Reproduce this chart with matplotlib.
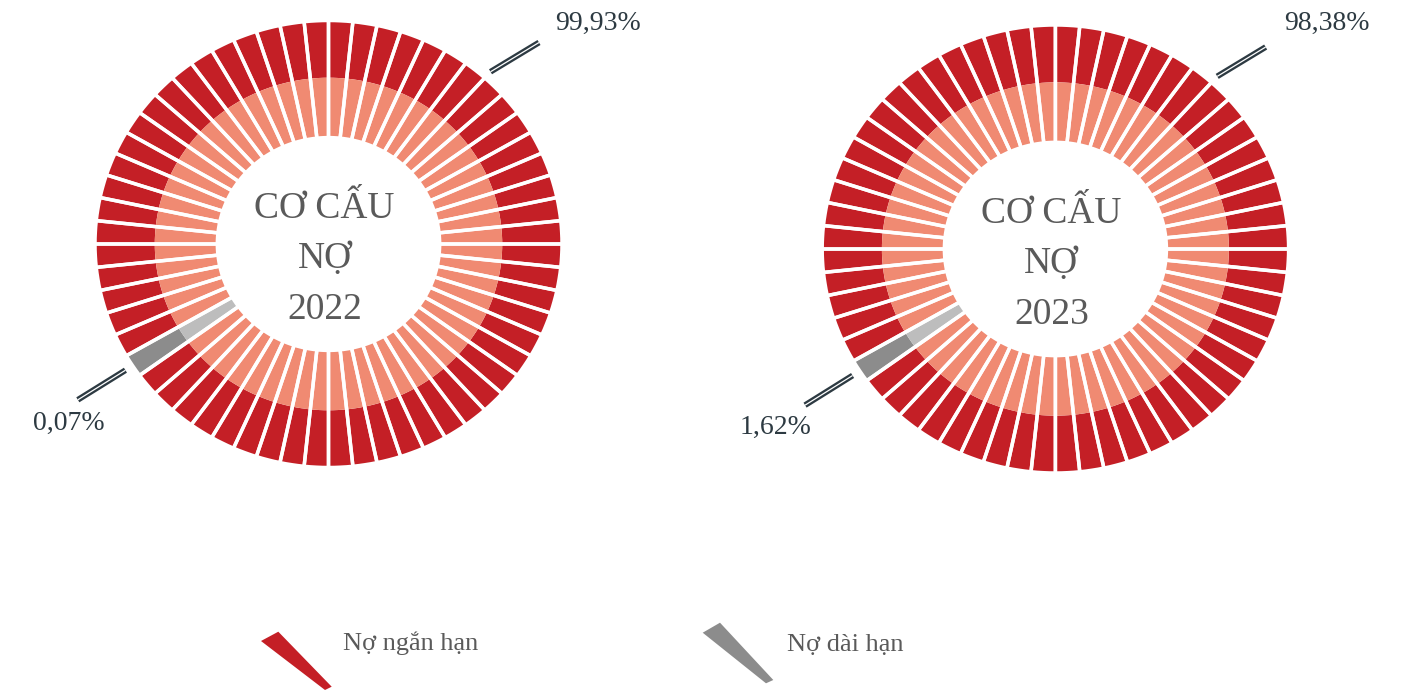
import math
import matplotlib
matplotlib.use("Agg")
import matplotlib.pyplot as plt
from matplotlib.patches import Polygon

# ---------------- data ----------------
years = ["2022", "2023"]
short_term_pct = [99.93, 98.38]   # Nợ ngắn hạn
long_term_pct = [0.07, 1.62]      # Nợ dài hạn
legend_labels = ["Nợ ngắn hạn", "Nợ dài hạn"]
center_title = ["CƠ CẤU", "NỢ"]
n_segments = 60
long_start_segment = 35           # first segment of the long-term part (210°)

# ---------------- style ----------------
W, H = 1402, 690
RED = "#C41F26"
SALMON = "#F08A72"
GRAY_D = "#8C8C8C"
GRAY_L = "#BDBDBD"
TXT_C = "#5A5A5A"
LBL_C = "#2D3A42"
SERIF = ["Liberation Serif", "DejaVu Serif"]

fig = plt.figure(figsize=(W / 100, H / 100), dpi=100)
fig.patch.set_facecolor("white")

# pixel geometry of the two donuts (center x, center y, rx, ry)
geoms = [(328.5, 244.0, 233.5, 223.5), (1055.4, 249.0, 233.2, 224.0)]
R_OUT, R_MID, R_IN = 1.0, 0.744, 0.476
Lx, Ly = 1.45, 1.12


def make_ax(cx, cy, rx, ry):
    left = (cx - Lx * rx) / W
    width = 2 * Lx * rx / W
    bottom = 1 - (cy + Ly * ry) / H
    height = 2 * Ly * ry / H
    ax = fig.add_axes([left, bottom, width, height])
    return ax


for k, (cx, cy, rx, ry) in enumerate(geoms):
    ax = make_ax(cx, cy, rx, ry)
    n_long = max(1, math.ceil(long_term_pct[k] * n_segments / 100))
    long_idx = set(range(long_start_segment, long_start_segment + n_long))
    vals = [1] * n_segments
    outer_cols = [GRAY_D if i in long_idx else RED for i in range(n_segments)]
    inner_cols = [GRAY_L if i in long_idx else SALMON for i in range(n_segments)]

    ax.pie(vals, radius=R_OUT, colors=outer_cols, startangle=0, counterclock=True,
           wedgeprops=dict(width=R_OUT - R_MID, linewidth=0))
    ax.pie(vals, radius=R_MID, colors=inner_cols, startangle=0, counterclock=True,
           wedgeprops=dict(width=R_MID - R_IN, linewidth=0))
    # white separators
    ax.pie(vals, radius=R_OUT, startangle=0, counterclock=True,
           wedgeprops=dict(width=R_OUT - R_IN, facecolor="none",
                           edgecolor="white", linewidth=2.5))
    ax.set_aspect("auto")
    ax.set_xlim(-Lx, Lx)
    ax.set_ylim(-Ly, Ly)
    ax.axis("off")

    # angles
    long_mid = (long_start_segment + n_long / 2) * 360 / n_segments
    a_small = math.radians(long_mid)

    def leader(p0, p1):
        ax.plot([p0[0], p1[0]], [p0[1], p1[1]], color=LBL_C, lw=4.2,
                solid_capstyle="butt", clip_on=False)
        ax.plot([p0[0], p1[0]], [p0[1], p1[1]], color="white", lw=0.9,
                solid_capstyle="butt", clip_on=False)

    # small slice label
    leader((1.037 * math.cos(a_small), 1.037 * math.sin(a_small)),
           (1.28 * math.cos(a_small), 1.28 * math.sin(a_small)))
    small_pos = [(-1.114, -0.803), (-1.198, -0.795)][k]
    ax.text(small_pos[0], small_pos[1], f"{long_term_pct[k]:.2f}%".replace(".", ","),
            ha="center", va="center", fontsize=20, color=LBL_C, family=SERIF,
            clip_on=False)

    # large slice label
    a0, a1 = math.radians(48), math.radians(45)
    leader((1.037 * math.cos(a0), 1.037 * math.sin(a0)),
           (1.275 * math.cos(a1), 1.275 * math.sin(a1)))
    big_pos = [(0.972, 0.987), (0.979, 1.007)][k]
    ax.text(big_pos[0], big_pos[1], f"{short_term_pct[k]:.2f}%".replace(".", ","),
            ha="left", va="center", fontsize=20, color=LBL_C, family=SERIF,
            clip_on=False)

    # center title
    tx = -4 / rx
    for j, line in enumerate(center_title + [years[k]]):
        base_px = [-26, 24, 75][j]
        ax.text(tx, -base_px / ry, line, ha="center", va="baseline",
                fontsize=27, color=TXT_C, family=SERIF)

# ---------------- legend ----------------
lax = fig.add_axes([0, 0, 1, 1])
lax.set_xlim(0, W)
lax.set_ylim(H, 0)
lax.axis("off")
icons = [
    [(261, 641), (278.3, 631.7), (331.7, 686.7), (325, 690)],
    [(702.7, 632.7), (720, 622.7), (773.3, 680), (766, 683.3)],
]
icon_cols = [RED, GRAY_D]
text_pos = [(343, 643), (787, 645)]
for poly, col, lbl, (x, y) in zip(icons, icon_cols, legend_labels, text_pos):
    lax.add_patch(Polygon(poly, closed=True, facecolor=col, edgecolor="none"))
    lax.text(x, y, lbl, ha="left", va="center", fontsize=19, color=TXT_C,
             family=SERIF)

fig.savefig("out.png", dpi=100, facecolor="white")
